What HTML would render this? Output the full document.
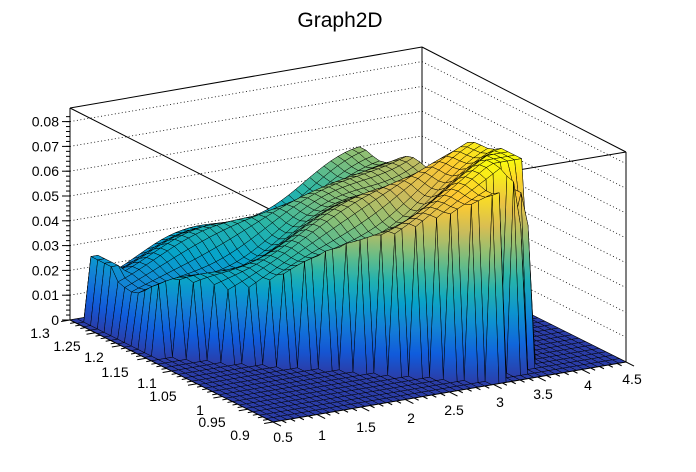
<!DOCTYPE html>
<html><head><meta charset="utf-8">
<style>
html,body{margin:0;padding:0;background:#fff;}
svg{display:block;font-family:"Liberation Sans",sans-serif;}
</style></head>
<body>
<svg id="s" width="696" height="472" viewBox="0 0 696 472" xmlns="http://www.w3.org/2000/svg">
<rect width="696" height="472" fill="#fff"/>
<text x="340" y="27" font-size="21" text-anchor="middle">Graph2D</text>
<g id="grid" stroke="#000" stroke-width="0.8" stroke-dasharray="1,2.5" fill="none"></g>
<g id="box" stroke="#000" stroke-width="1" fill="none">
<line x1="70" y1="108" x2="70" y2="320"/>
<line x1="422" y1="47" x2="422" y2="260"/>
<line x1="70" y1="108" x2="422" y2="47"/>
<line x1="422" y1="47" x2="626" y2="152"/>
<line x1="70" y1="108" x2="273" y2="211"/>
<line x1="626" y1="152" x2="273" y2="211"/>
<line x1="626" y1="152" x2="626" y2="362"/>
<line x1="70" y1="320" x2="422" y2="260"/>
<line x1="422" y1="260" x2="626" y2="362"/>
</g>
<defs id="defs"></defs>
<g id="surf" stroke="#000" stroke-width="0.5" stroke-linejoin="round"></g>
<g id="axes" stroke="#000" stroke-width="1" fill="none">
<line x1="70" y1="320" x2="273" y2="422"/>
<line x1="273" y1="422" x2="626" y2="362"/>
</g>
<g id="lab" font-size="14" fill="#000"></g>
</svg>
<script>
var NS="http://www.w3.org/2000/svg";
function P(u,v,z){return [273+353*u-203*v, 422-60*u-102*v-2480*z];}
var pal=[[0.17,0.24,0.66],[0.0592,0.3599,0.8684],[0.0780,0.5041,0.8385],[0.0232,0.6419,0.7914],[0.1802,0.7178,0.6425],[0.5301,0.7492,0.4662],[0.8186,0.7328,0.3499],[0.9956,0.7862,0.1968],[0.9764,0.9832,0.0539]];
function col(t){t=Math.max(0,Math.min(1,t));var f=t*8,i=Math.min(7,Math.floor(f)),r=f-i;var a=pal[i],b=pal[i+1];
 var c=[0,1,2].map(function(k){return Math.round(255*(a[k]+(b[k]-a[k])*r));});return "rgb("+c.join(",")+")";}
function el(n,at,p){var e=document.createElementNS(NS,n);for(var k in at)e.setAttribute(k,at[k]);p.appendChild(e);return e;}
var g=document.getElementById("grid");
for(var k=1;k<=8;k++){var y=320-k*0.01*2480;
 el("line",{x1:70,y1:y,x2:422,y2:y-60},g);
 el("line",{x1:422,y1:y-60,x2:626,y2:y-60+102},g);}
function H(u,v){
 if(u<0.03||u+v<0.66||u>0.657+1.27*v||v>0.97||u>0.8) return 0;
 if(u>0.665&&u<0.72&&v<0.12) return 0;
 var z=0.02+0.09*u-0.06*u*v+0.004*Math.sin(13*u+1)*Math.cos(10*v)+0.003*Math.sin(23*v+5*u);
 if(u>0.72&&v<0.15) z=0.05+0.02*Math.sin(60*u);
 if(u<0.08&&v>0.85) z=Math.max(z,0.026);
 return Math.max(0.001,Math.min(0.08,z));
}
var NX=50,NY=30,Z=[];
for(var i=0;i<=NX;i++){Z[i]=[];for(var j=0;j<=NY;j++)Z[i][j]=H(i/NX,j/NY);}
var quads=[];
for(var i=0;i<NX;i++)for(var j=0;j<NY;j++){
 var uc=(i+0.5)/NX,vc=(j+0.5)/NY;
 quads.push({i:i,j:j,d:60*uc+102*vc});}
quads.sort(function(a,b){return b.d-a.d;});
var s=document.getElementById("surf"),defs=document.getElementById("defs"),gid=0;
quads.forEach(function(q){
 var vs=[[q.i,q.j],[q.i+1,q.j],[q.i+1,q.j+1],[q.i,q.j+1]];
 var pts=[],zs=[],pp=[];
 vs.forEach(function(a){var z=Z[a[0]][a[1]];var p=P(a[0]/NX,a[1]/NY,z);pp.push(p);zs.push(z);pts.push(p[0].toFixed(1)+","+p[1].toFixed(1));});
 var zmin=Math.min.apply(null,zs),zmax=Math.max.apply(null,zs),fill;
 if(zmax-zmin>0.004){
  var imn=zs.indexOf(zmin),imx=zs.indexOf(zmax);
  var id="g"+(gid++);
  var lg=el("linearGradient",{id:id,gradientUnits:"userSpaceOnUse",x1:pp[imn][0],y1:pp[imn][1],x2:pp[imx][0],y2:pp[imx][1]},defs);
  for(var k=0;k<=6;k++){var z=zmin+(zmax-zmin)*k/6;el("stop",{offset:k/6,"stop-color":col(z/0.08)},lg);}
  fill="url(#"+id+")";
 } else fill=col((zmin+zmax)/2/0.08);
 el("polygon",{points:pts.join(" "),fill:fill},s);
});
var L=document.getElementById("lab"),A=document.getElementById("axes");
function txt(x,y,t,anc){var e=el("text",{x:x,y:y,"text-anchor":anc||"middle"},L);e.textContent=t;}
var zl=["0","0.01","0.02","0.03","0.04","0.05","0.06","0.07","0.08"];
for(var k=0;k<=8;k++){var y=320-k*24.8;el("line",{x1:62,y1:y,x2:70,y2:y},A);txt(59,y+5,zl[k],"end");}
for(var k=0;k<42;k++){var y=320-k*4.96;if(y<108)break;el("line",{x1:66,y1:y,x2:70,y2:y},A);}
for(var k=0;k<=40;k++){var v=1-k/40;var p=P(0,v,0);var len=(k%5==0)?9:5;
 el("line",{x1:p[0],y1:p[1],x2:p[0]-len*0.986,y2:p[1]+len*0.168},A);}
var yl=[["1.3",40,338],["1.25",67,351],["1.2",94,362],["1.15",115,377],["1.1",147,388],["1.05",163,401],["1",200,415],["0.95",212,427],["0.9",240,440]];
yl.forEach(function(a){txt(a[1],a[2],a[0]);});
for(var k=0;k<=40;k++){var p=P(k/40,0,0);var len=(k%5==0)?9:5;
 el("line",{x1:p[0],y1:p[1],x2:p[0]+len*0.89,y2:p[1]+len*0.45},A);}
var xl=[["0.5",283,442],["1",322,440],["1.5",366,432],["2",411,423],["2.5",454,415],["3",500,407],["3.5",543,399],["4",588,390],["4.5",632,384]];
xl.forEach(function(a){txt(a[1],a[2],a[0]);});
</script>
</body></html>
